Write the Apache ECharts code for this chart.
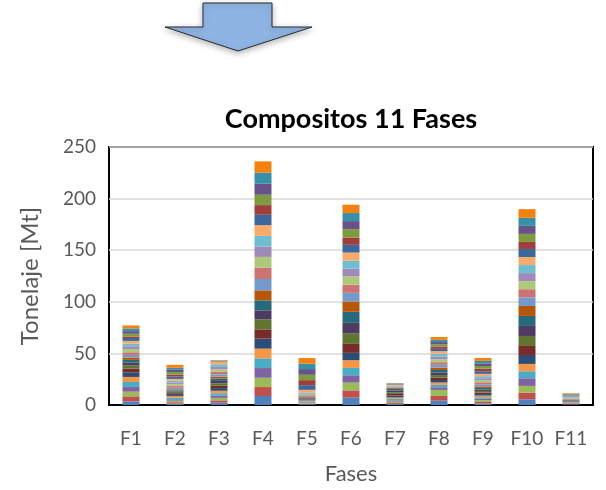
<!DOCTYPE html>
<html>
<head>
<meta charset="utf-8">
<script src="https://cdn.jsdelivr.net/npm/echarts@6/dist/echarts.min.js"></script>
<style>
  html, body { margin: 0; padding: 0; background: #fff; }
  #chart { width: 606px; height: 490px; }
</style>
</head>
<body>
<div id="chart"></div>
<script>
// Phase labels on the category axis
const phases = ['F1', 'F2', 'F3', 'F4', 'F5', 'F6', 'F7', 'F8', 'F9', 'F10', 'F11'];

// Tonnage [Mt] of each of the 24 composites, bottom to top, per phase
const f1  = [3.5, 4.9, 4.5, 4.5, 4.9, 4.9, 4.5, 3.6, 3.2, 2.6, 2.6, 2.3, 2.5, 2.6, 3.2, 2.6, 2.6, 2.6, 2.8, 1.5, 2.6, 2.6, 2.6, 2.9];
const f2  = [1.4, 1.3, 1.5, 1.4, 1.5, 1.3, 1.2, 1.0, 1.3, 1.1, 1.2, 1.0, 1.6, 1.9, 1.7, 1.5, 1.6, 1.8, 2.3, 1.7, 2.6, 2.2, 1.9, 2.9];
const f3  = [2.3, 2.2, 2.4, 2.3, 2.2, 2.4, 2.6, 2.2, 2.3, 2.4, 2.3, 1.8, 2.3, 2.4, 2.5, 2.3, 2.6, 2.2, 0.3, 0.3, 0.3, 0.3, 0.3, 0.3];
const f4  = [8.7, 8.7, 9.0, 9.4, 9.4, 9.4, 9.7, 9.0, 9.7, 8.7, 9.7, 9.7, 11.0, 11.0, 10.4, 10.0, 10.4, 10.4, 10.0, 9.4, 10.0, 10.7, 10.7, 11.0];
const f5  = [0.8, 0.6, 0.9, 0.7, 0.6, 0.8, 0.5, 0.6, 0.5, 0.6, 0.5, 0.7, 0.9, 0.8, 1.0, 0.9, 0.8, 2.5, 4.5, 4.9, 5.2, 5.5, 5.2, 5.5];
const f6  = [7.1, 7.1, 7.5, 7.1, 7.1, 7.5, 7.1, 8.7, 10.0, 10.4, 10.7, 10.0, 8.4, 7.8, 8.1, 7.5, 7.8, 7.8, 7.5, 7.1, 8.1, 7.8, 7.8, 8.1];
const f7  = [1.0, 0.9, 1.4, 1.2, 1.4, 1.4, 1.8, 1.6, 1.5, 1.7, 1.8, 1.2, 0.4, 0.4, 0.4, 0.4, 0.4, 0.4, 0.3, 0.3, 0.3, 0.3, 0.5, 0.3];
const f8  = [4.2, 4.6, 5.8, 2.6, 2.3, 2.3, 2.4, 2.5, 2.3, 2.4, 2.5, 2.3, 2.7, 2.6, 2.8, 2.6, 2.7, 2.6, 2.2, 2.3, 2.2, 2.1, 2.1, 2.8];
const f9  = [1.4, 1.5, 1.7, 1.4, 1.5, 1.6, 1.5, 1.4, 1.6, 1.5, 1.4, 1.6, 2.0, 1.9, 2.0, 1.9, 2.0, 2.3, 2.5, 2.6, 2.5, 2.5, 2.4, 2.9];
const f10 = [5.5, 6.5, 6.5, 7.4, 6.8, 7.1, 8.7, 8.7, 9.7, 9.7, 9.7, 9.7, 8.4, 7.8, 7.8, 7.8, 7.8, 7.8, 7.8, 6.8, 7.8, 7.8, 7.8, 8.4];
const f11 = [0.5, 0.5, 0.4, 0.5, 0.5, 0.4, 0.4, 0.4, 0.5, 0.4, 0.4, 0.5, 0.5, 0.5, 0.4, 0.5, 0.5, 0.4, 0.5, 0.4, 0.6, 0.5, 0.6, 0.6];

// Value axis ticks
const yTicks = [0, 50, 100, 150, 200, 250];

const byPhase = [f1, f2, f3, f4, f5, f6, f7, f8, f9, f10, f11];

// Office-style series palette (base, darker, lighter, mid-dark)
const palette = [
  '#4F81BD', '#C0504D', '#9BBB59', '#8064A2', '#4BACC6', '#F79646',
  '#2C4D75', '#772C2A', '#5F7530', '#4D3B62', '#276A7C', '#B65708',
  '#729ACA', '#CD7371', '#AFC97A', '#9F8AB9', '#6FBDD1', '#F9AB6B',
  '#3A679C', '#A03E3C', '#7E9C3E', '#67528A', '#3590A8', '#F5820E'
];

const nComp = f1.length;
const series = [];
for (let k = 0; k < nComp; k++) {
  series.push({
    name: 'C' + (k + 1),
    type: 'bar',
    stack: 'total',
    barWidth: 17,
    data: byPhase.map(p => p[k]),
    itemStyle: { color: palette[k % palette.length] },
    emphasis: { disabled: true }
  });
}

const chart = echarts.init(document.getElementById('chart'), null, { renderer: 'canvas' });
const font = 'Lato, "Open Sans", sans-serif';

chart.setOption({
  animation: false,
  backgroundColor: '#ffffff',
  title: {
    text: 'Compositos 11 Fases',
    left: 346,
    top: 101,
    textAlign: 'center',
    textStyle: { fontFamily: font, fontSize: 27, fontWeight: 'bold', color: '#000000' }
  },
  grid: {
    left: 109, right: 13, top: 147, bottom: 84,
    show: true,
    borderColor: '#000000',
    borderWidth: 2,
    backgroundColor: 'transparent'
  },
  xAxis: {
    type: 'category',
    data: phases,
    name: 'Fases',
    nameLocation: 'middle',
    nameGap: 58,
    nameTextStyle: { fontFamily: font, fontSize: 22, color: '#595959' },
    axisLine: { show: true, lineStyle: { color: '#000000', width: 2 } },
    axisTick: { show: false },
    axisLabel: { fontFamily: font, fontSize: 19, color: '#595959', margin: 24 }
  },
  yAxis: {
    type: 'value',
    min: yTicks[0],
    max: yTicks[yTicks.length - 1],
    interval: yTicks[1] - yTicks[0],
    name: 'Tonelaje [Mt]',
    nameLocation: 'middle',
    nameGap: 67,
    nameTextStyle: { fontFamily: font, fontSize: 24, color: '#595959' },
    axisLine: { show: false },
    axisTick: { show: false },
    axisLabel: { fontFamily: font, fontSize: 19, color: '#595959', margin: 13 },
    splitLine: { lineStyle: { color: '#D9D9D9', width: 1.5 } }
  },
  graphic: [{
    type: 'polygon',
    shape: {
      points: [[203, 3], [272, 3], [272, 27], [312, 27], [238, 51], [165, 27], [203, 27]]
    },
    style: {
      fill: '#8EB4E3',
      stroke: '#2b2b2b',
      lineWidth: 1,
      shadowBlur: 6,
      shadowColor: 'rgba(0,0,0,0.3)',
      shadowOffsetY: 2
    },
    z: 10
  }],
  series: series
});
</script>
</body>
</html>
